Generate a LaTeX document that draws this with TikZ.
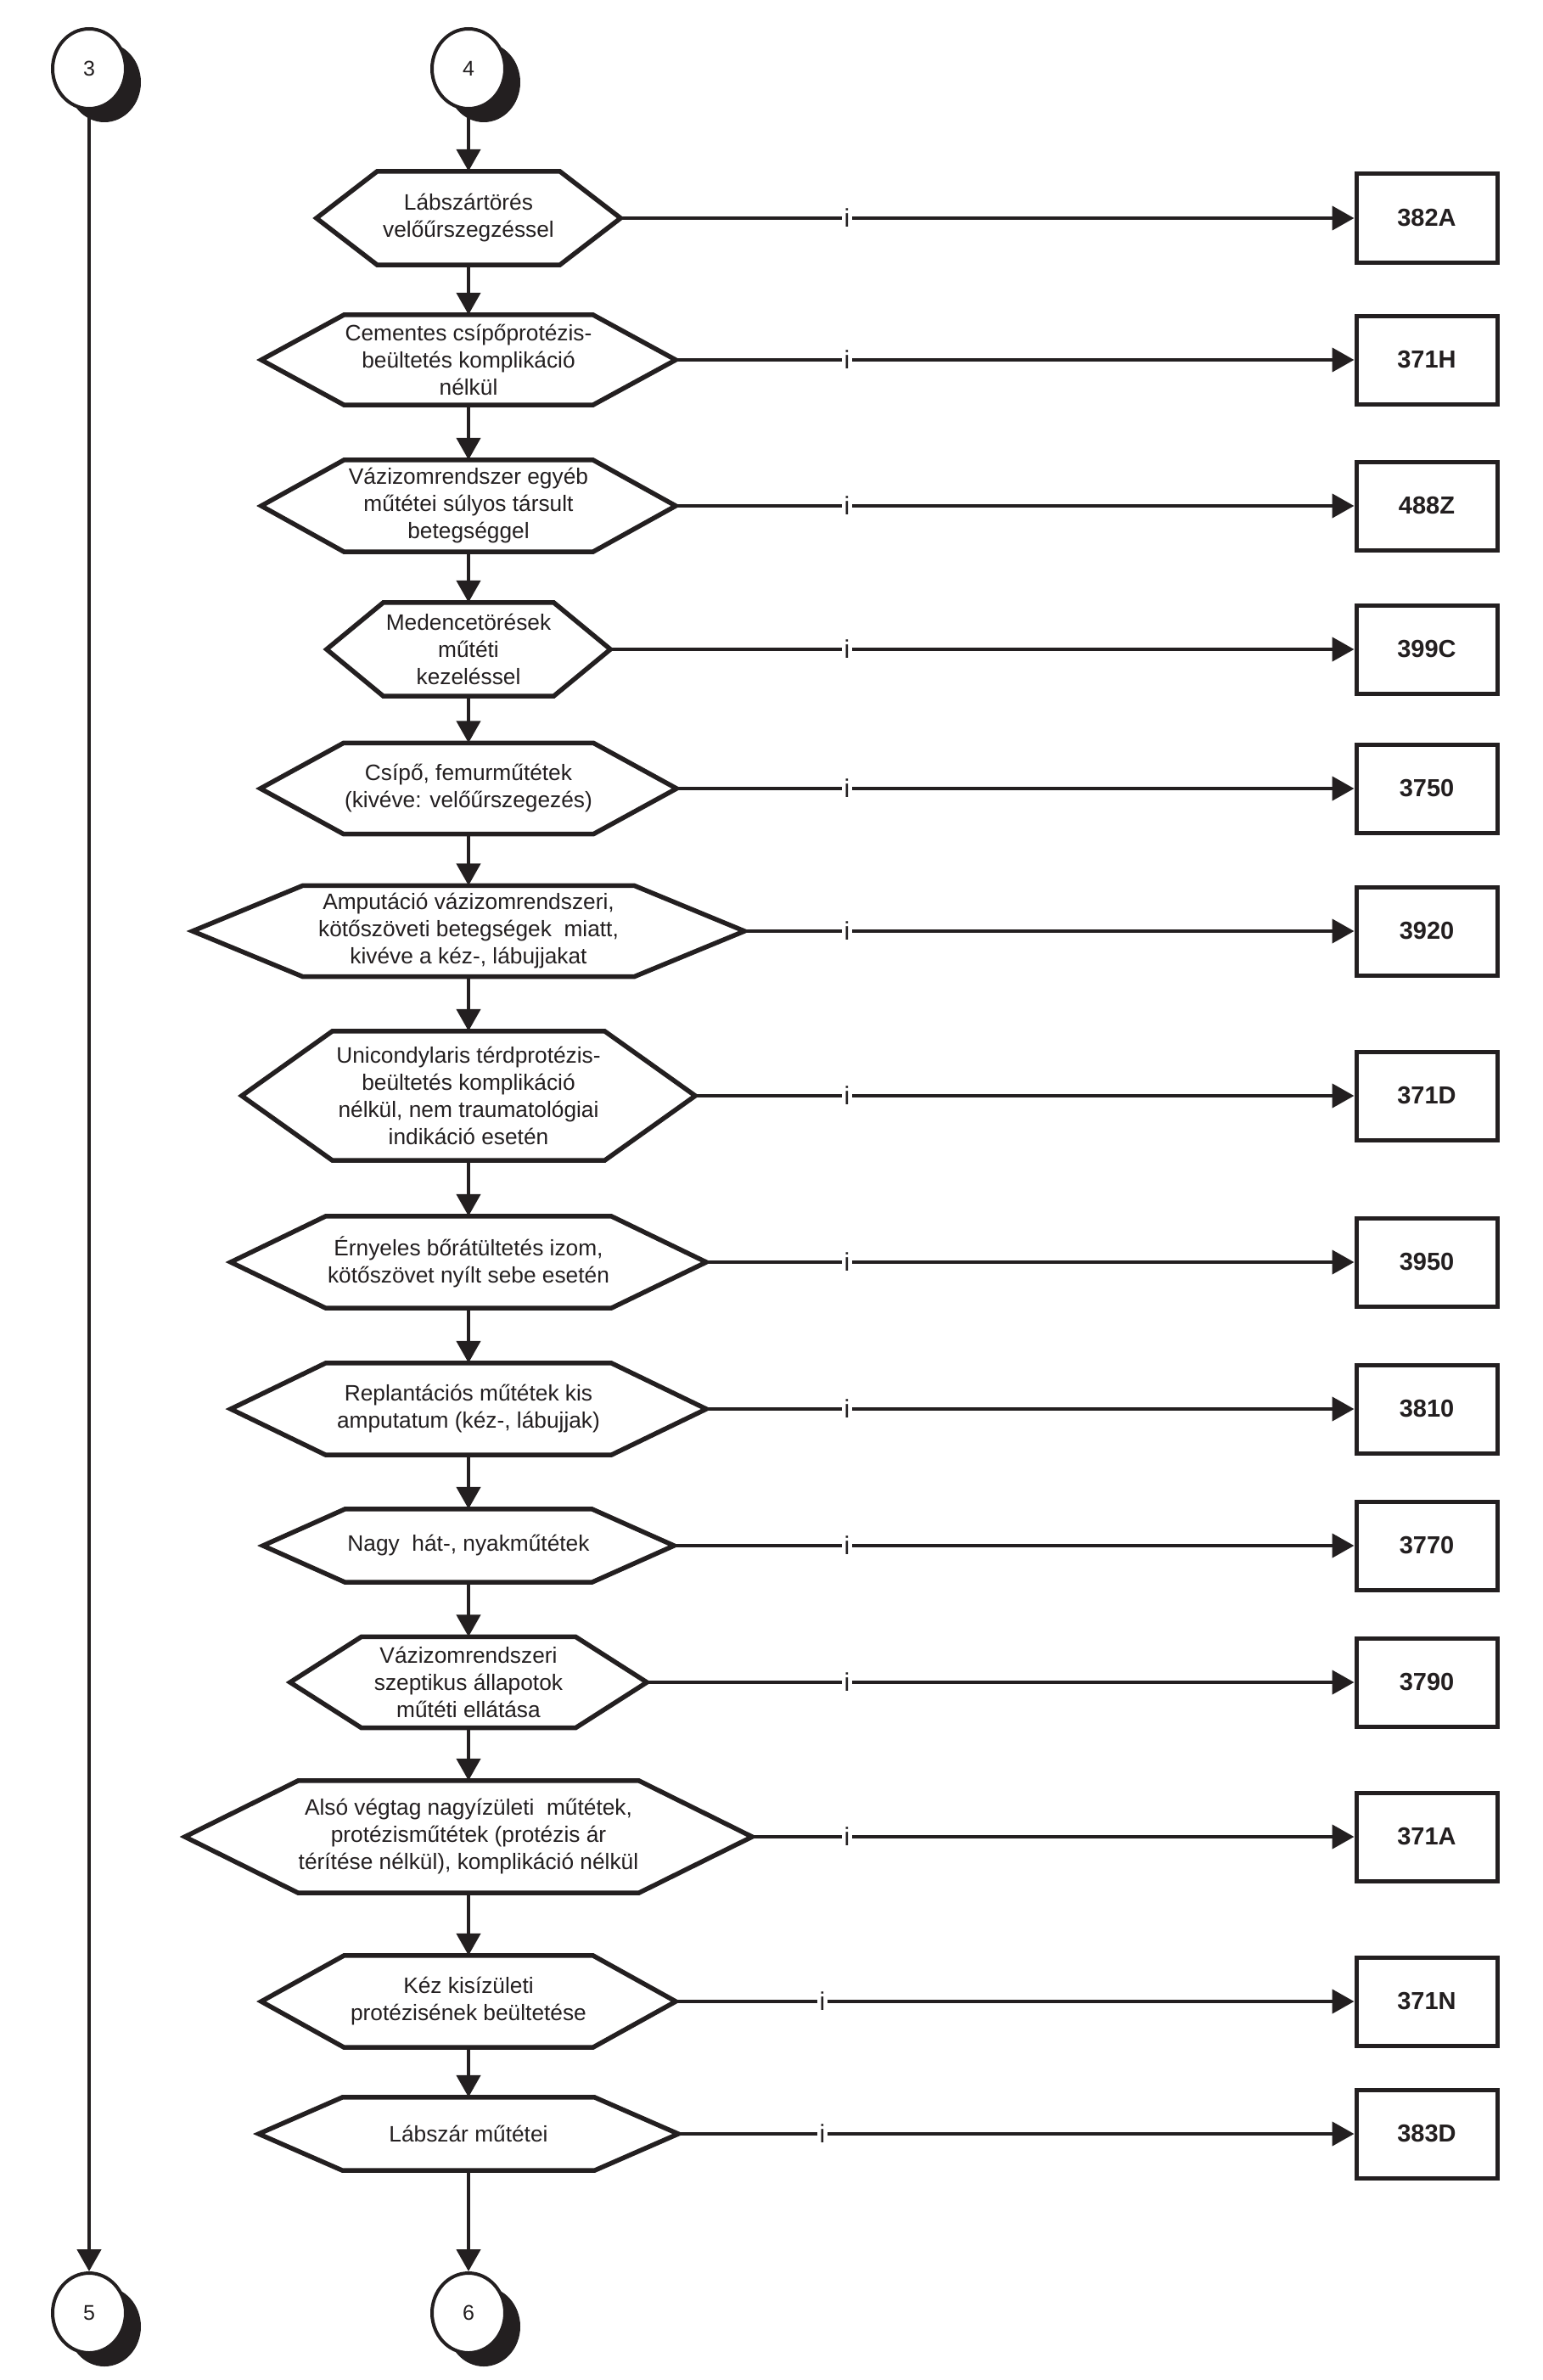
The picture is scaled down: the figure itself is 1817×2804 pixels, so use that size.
\documentclass[tikz,border=0pt]{standalone}
\usepackage{fontspec}
\setmainfont{Liberation Sans}
\usetikzlibrary{arrows.meta,calc,shadows,shapes.geometric}
\definecolor{ink}{HTML}{231F20}
% #1 name, #2 centre y, #3 half width, #4 height, #5 text
\newcommand\hexa[5]{%
  \node[hexnode, minimum width=2*#3pt, minimum height=#4pt] (#1) at (552,#2) {#5};
  \draw[hexline] (#1.west) -- ($(#1.north west)!0.4!(#1.north)$)
     -- ($(#1.north east)!0.4!(#1.north)$) -- (#1.east)
     -- ($(#1.south east)!0.4!(#1.south)$) -- ($(#1.south west)!0.4!(#1.south)$) -- cycle;
}
\begin{document}
\begin{tikzpicture}[x=1pt,y=-1pt,
  hexnode/.style={rectangle, inner sep=0pt, align=center, text=ink,
    font=\fontsize{26.3pt}{32pt}\selectfont},
  hexline/.style={draw=ink, line width=5.5pt, line join=miter},
  codebox/.style={rectangle, draw=ink, line width=5pt, minimum width=166pt,
    minimum height=104pt, inner sep=0pt, text=ink,
    font=\fontsize{29pt}{34pt}\selectfont\bfseries},
  conn/.style={ellipse, draw=ink, fill=white, line width=4pt, minimum width=86pt,
    minimum height=94pt, inner sep=0pt, text=ink, font=\fontsize{25pt}{28pt}\selectfont,
    drop shadow={shadow xshift=18pt, shadow yshift=-16pt, fill=ink, opacity=1}},
  flow/.style={draw=ink, line width=4.5pt, -{Triangle[length=26pt,width=28pt]}},
  ilabel/.style={fill=white, inner xsep=3pt, inner ysep=0pt, text=ink,
    font=\fontsize{30pt}{34pt}\selectfont}]
\fill[white] (0,0) rectangle (1817,2804);
\useasboundingbox (0,0) rectangle (1817,2804);

% connectors (circles)
\node[conn] (c3) at (105,81) {3};
\node[conn] (c4) at (552,81) {4};
\node[conn] (c5) at (105,2725) {5};
\node[conn] (c6) at (552,2725) {6};

% decision hexagons
\hexa{h1}{257}{179}{110}{Lábszártörés\\velőűrszegzéssel}
\hexa{h2}{424}{244}{106}{Cementes csípőprotézis-\\beültetés komplikáció\\nélkül}
\hexa{h3}{596}{244}{108}{Vázizomrendszer egyéb\\műtétei súlyos társult\\betegséggel}
\hexa{h4}{765}{167}{110}{Medencetörések\\műtéti\\kezeléssel}
\hexa{h5}{929}{245}{107}{Csípő, femurműtétek\\(kivéve: velőűrszegezés)}
\hexa{h6}{1097}{325}{107}{Amputáció vázizomrendszeri,\\kötőszöveti betegségek\ \ miatt,\\kivéve a kéz-, lábujjakat}
\hexa{h7}{1291}{267}{152}{Unicondylaris térdprotézis-\\beültetés komplikáció\\nélkül, nem traumatológiai\\indikáció esetén}
\hexa{h8}{1487}{280}{108}{Érnyeles bőrátültetés izom,\\kötőszövet nyílt sebe esetén}
\hexa{h9}{1660}{280}{108}{Replantációs műtétek kis\\amputatum (kéz-, lábujjak)}
\hexa{h10}{1821}{242}{86}{Nagy\ \ hát-, nyakműtétek}
\hexa{h11}{1982}{210}{107}{Vázizomrendszeri\\szeptikus állapotok\\műtéti ellátása}
\hexa{h12}{2164}{334}{132}{Alsó végtag nagyízületi\ \ műtétek,\\protézisműtétek (protézis ár\\térítése nélkül), komplikáció nélkül}
\hexa{h13}{2358}{244}{108}{Kéz kisízületi\\protézisének beültetése}
\hexa{h14}{2514}{247}{86}{Lábszár műtétei}

% result boxes
\node[codebox] (b1) at (1681,257) {382A};
\node[codebox] (b2) at (1681,424) {371H};
\node[codebox] (b3) at (1681,596) {488Z};
\node[codebox] (b4) at (1681,765) {399C};
\node[codebox] (b5) at (1681,929) {3750};
\node[codebox] (b6) at (1681,1097) {3920};
\node[codebox] (b7) at (1681,1291) {371D};
\node[codebox] (b8) at (1681,1487) {3950};
\node[codebox] (b9) at (1681,1660) {3810};
\node[codebox] (b10) at (1681,1821) {3770};
\node[codebox] (b11) at (1681,1982) {3790};
\node[codebox] (b12) at (1681,2164) {371A};
\node[codebox] (b13) at (1681,2358) {371N};
\node[codebox] (b14) at (1681,2514) {383D};

% vertical flow
\draw[flow] (c3) -- (c5);
\draw[flow] (c4) -- (h1);
\foreach \a/\b in {h1/h2,h2/h3,h3/h4,h4/h5,h5/h6,h6/h7,h7/h8,h8/h9,h9/h10,h10/h11,h11/h12,h12/h13,h13/h14}
  \draw[flow] (\a) -- (\b);
\draw[flow] (h14) -- (c6);

% horizontal flow to result boxes
\foreach \n in {1,...,14}
  \draw[flow] (h\n) -- (b\n);

% "i" labels
\node[ilabel] (i1) at (998,257) {i};
\node[ilabel] (i2) at (998,424) {i};
\node[ilabel] (i3) at (998,596) {i};
\node[ilabel] (i4) at (998,765) {i};
\node[ilabel] (i5) at (998,929) {i};
\node[ilabel] (i6) at (998,1097) {i};
\node[ilabel] (i7) at (998,1291) {i};
\node[ilabel] (i8) at (998,1487) {i};
\node[ilabel] (i9) at (998,1660) {i};
\node[ilabel] (i10) at (998,1821) {i};
\node[ilabel] (i11) at (998,1982) {i};
\node[ilabel] (i12) at (998,2164) {i};
\node[ilabel] (i13) at (969,2358) {i};
\node[ilabel] (i14) at (969,2514) {i};
\end{tikzpicture}
\end{document}
